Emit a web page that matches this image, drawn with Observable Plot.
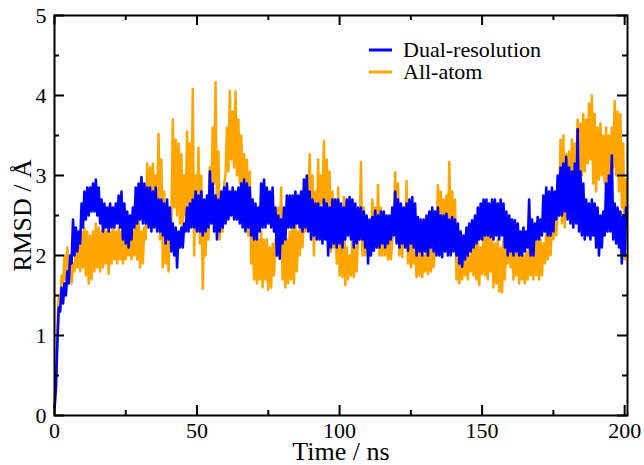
<!DOCTYPE html>
<html><head><meta charset="utf-8">
<script src="https://cdn.jsdelivr.net/npm/d3@7"></script>
<script src="https://cdn.jsdelivr.net/npm/@observablehq/plot@0.6"></script>
<style>
body{margin:0;background:#fff}
#wrap{position:relative;width:644px;height:465px}
#legend{position:absolute;left:0;top:0;pointer-events:none}
#legend text{font-family:"Liberation Serif","Times New Roman",serif}
</style></head><body><div id="wrap"></div>
<script>
// Sampling: one low/high pair per ns (t = 0..200 ns)
const seriesNames = ["Dual-resolution", "All-atom"];
const seriesColors = ["#0000ff", "#ffa500"];

const dualLo = [
0.10,0.90,1.30,1.40,1.50,1.65,1.90,2.00,2.05,2.15,
2.35,2.45,2.50,2.55,2.55,2.50,2.40,2.30,2.35,2.30,
2.35,2.35,2.40,2.35,2.20,2.15,2.10,2.20,2.35,2.40,
2.45,2.40,2.40,2.35,2.30,2.35,2.30,2.30,2.25,2.15,
2.20,2.05,2.00,1.85,2.10,2.10,2.30,2.30,2.35,2.35,
2.30,2.30,2.25,2.30,2.35,2.40,2.30,2.20,2.30,2.35,
2.40,2.45,2.50,2.45,2.45,2.40,2.35,2.30,2.35,2.25,
2.20,2.20,2.30,2.35,2.35,2.40,2.35,2.30,2.00,1.96,
2.15,2.20,2.35,2.35,2.35,2.40,2.35,2.30,2.35,2.30,
2.20,2.25,2.20,2.20,2.15,2.20,2.00,2.10,2.15,2.10,
2.15,2.10,2.20,2.25,2.20,2.10,2.15,2.20,2.20,2.10,
1.90,2.00,2.06,2.10,2.10,2.15,2.10,2.15,2.20,2.25,
2.15,2.10,2.15,2.10,2.06,2.15,2.10,2.00,2.05,2.00,
2.05,2.00,2.10,2.05,2.00,2.00,1.98,2.05,2.00,2.00,
2.05,2.00,1.90,1.86,1.95,2.00,2.05,2.10,2.15,2.20,
2.20,2.25,2.25,2.23,2.20,2.25,2.20,2.25,2.10,2.00,
2.05,2.00,2.05,2.00,2.00,2.05,2.10,2.00,2.00,2.20,
2.20,2.25,2.30,2.25,2.25,2.30,2.45,2.50,2.50,2.55,
2.45,2.40,2.35,2.40,2.30,2.25,2.20,2.25,2.20,2.25,
2.10,2.00,2.10,2.25,2.30,2.30,2.20,2.15,2.10,1.90,
2.00];
const dualHi = [
0.35,1.35,1.60,1.65,1.80,2.00,2.45,2.35,2.30,2.65,
2.80,2.85,2.85,2.90,2.95,2.85,2.70,2.65,2.60,2.65,
2.60,2.65,2.75,2.80,2.65,2.55,2.50,2.60,2.85,2.90,
2.98,2.90,2.85,2.85,2.80,2.85,2.70,2.70,2.65,2.70,
2.60,2.40,2.35,2.30,2.35,2.40,2.60,2.65,2.70,2.80,
2.75,2.80,2.70,2.75,3.05,2.90,2.75,2.70,2.80,2.85,
2.90,2.80,2.85,2.80,2.85,2.90,2.95,2.90,2.85,2.70,
2.65,2.60,2.90,2.95,2.85,2.80,2.85,2.60,2.50,2.45,
2.60,2.75,2.75,2.75,2.80,2.75,2.80,2.95,3.00,2.80,
2.70,2.65,2.65,2.60,2.70,2.65,2.60,2.70,2.70,2.70,
2.65,2.60,2.70,2.73,2.70,2.65,2.60,2.60,2.55,2.50,
2.45,2.48,2.56,2.50,2.55,2.55,2.50,2.50,2.60,2.80,
2.70,2.65,2.60,2.65,2.70,2.73,2.65,2.48,2.45,2.45,
2.50,2.55,2.60,2.55,2.60,2.50,2.50,2.52,2.45,2.48,
2.45,2.40,2.30,2.25,2.35,2.40,2.44,2.50,2.60,2.65,
2.70,2.70,2.65,2.70,2.70,2.65,2.70,2.65,2.55,2.50,
2.45,2.44,2.40,2.30,2.35,2.30,2.70,2.45,2.40,2.48,
2.45,2.75,2.85,2.80,2.85,2.80,3.00,3.10,3.15,3.23,
3.10,3.05,3.15,3.58,3.05,2.90,2.70,2.65,2.70,2.65,
2.60,2.50,2.55,2.90,3.00,3.25,2.65,2.60,2.55,2.50,
2.60];
const allLo = [
0.05,1.10,1.45,1.65,1.70,1.70,1.65,1.80,1.85,1.80,
1.85,1.75,1.65,1.70,1.80,1.85,1.80,1.85,1.90,1.77,
1.90,1.95,1.90,1.95,1.90,1.95,2.00,1.95,2.00,1.95,
1.85,1.90,2.20,2.65,2.60,2.50,2.60,2.20,1.85,1.90,
1.80,2.40,2.60,2.50,2.40,2.30,2.50,2.60,2.40,2.00,
2.30,2.15,1.58,2.00,2.20,2.60,2.90,2.40,2.20,2.30,
3.00,3.05,3.20,3.10,3.00,2.90,2.85,2.60,2.25,1.90,
1.70,1.65,1.70,1.60,1.70,1.57,1.60,1.75,2.00,2.10,
1.70,1.60,1.65,1.70,1.65,1.80,2.00,2.10,2.30,2.40,
2.30,2.00,2.30,2.40,2.65,2.50,2.30,2.05,2.10,1.90,
1.75,1.73,1.63,1.70,1.75,1.73,1.80,2.20,2.00,2.00,
2.05,2.05,2.10,2.10,2.00,2.00,2.00,1.95,1.95,2.30,
2.20,2.00,1.98,2.10,1.90,1.85,1.90,1.73,1.75,1.73,
1.80,1.77,1.80,1.85,2.30,2.35,2.30,2.40,2.30,2.20,
2.25,1.70,1.65,1.70,1.75,1.70,1.80,1.75,1.70,1.63,
1.77,1.75,1.70,1.80,1.60,1.65,1.55,1.54,1.70,1.90,
1.85,1.70,1.75,1.65,1.70,1.65,1.70,1.75,1.70,1.75,
1.70,1.75,1.90,1.95,2.00,2.20,2.25,2.50,2.40,2.35,
2.50,2.50,2.60,2.95,3.00,3.00,3.05,3.15,3.20,2.90,
2.80,2.95,3.00,2.90,2.80,2.95,3.10,3.00,2.80,2.60,
1.95];
const allHi = [
0.30,1.50,1.75,2.00,2.10,2.00,1.90,2.10,2.15,2.30,
2.35,2.30,2.25,2.30,2.40,2.35,2.30,2.35,2.30,2.30,
2.35,2.30,2.35,2.30,2.25,2.15,2.20,2.30,2.50,2.45,
2.30,2.35,3.15,3.10,3.15,3.00,3.52,3.20,2.80,2.40,
2.35,3.70,3.45,3.40,3.27,3.00,3.55,3.40,4.08,3.00,
3.35,3.00,2.40,2.65,3.10,3.60,4.17,3.30,2.65,2.90,
3.60,4.06,3.80,4.05,3.70,3.50,3.27,3.20,3.05,2.40,
2.23,2.20,2.30,2.20,2.20,2.10,2.15,2.20,2.60,2.85,
2.30,2.20,2.30,2.35,2.40,2.30,2.55,2.50,2.90,3.27,
3.00,2.80,3.20,3.00,3.43,3.20,3.05,2.80,2.70,2.85,
2.60,2.73,2.10,2.00,2.20,2.10,2.23,3.17,2.60,2.30,
2.40,2.70,2.60,2.88,2.60,2.50,2.40,2.20,2.20,3.04,
2.90,2.60,2.50,2.93,2.20,2.20,2.10,2.10,2.05,2.00,
2.10,2.15,2.10,2.15,2.88,2.80,2.70,2.75,3.17,2.80,
2.70,1.94,1.90,2.05,2.10,2.00,2.10,2.27,2.20,2.10,
2.30,2.25,2.30,2.20,2.15,2.20,2.10,2.20,2.20,2.50,
2.40,2.20,2.15,2.10,2.00,2.05,2.20,2.15,2.30,2.25,
2.20,2.15,2.30,2.40,2.40,2.50,2.50,3.45,3.50,3.27,
3.30,3.45,3.40,3.70,3.65,3.77,3.70,3.90,4.00,3.77,
3.60,3.65,3.50,3.60,3.50,3.60,3.93,3.80,3.77,3.40,
2.95];

const xMajor = [0, 50, 100, 150, 200];
const xMinor = [25, 75, 125, 175];
const yMajor = [0, 1, 2, 3, 4, 5];
const yMinor = [0.5, 1.5, 2.5, 3.5, 4.5];
const xTitle = "Time / ns";
const yTitle = "RMSD / Å";

function toSeries(lo, hi) {
  const out = [];
  lo.forEach((v, i) => { out.push({t: i, v: v}); out.push({t: i + 0.5, v: hi[i]}); });
  return out;
}
const dual = toSeries(dualLo, dualHi);
const all = toSeries(allLo, allHi);

const W = 644, H = 465, mL = 54, mR = 17, mT = 15, mB = 50;
const fw = W - mL - mR, fh = H - mT - mB;
const font = "Liberation Serif, Times New Roman, serif";
const intFmt = d => String(d);

const chart = Plot.plot({
  width: W, height: H,
  marginLeft: mL, marginRight: mR, marginTop: mT, marginBottom: mB,
  style: {fontFamily: font, fontSize: "22px", background: "white", color: "black", overflow: "visible"},
  x: {domain: [0, 201]},
  y: {domain: [0, 5]},
  marks: [
    Plot.line(all, {x: "t", y: "v", stroke: seriesColors[1], strokeWidth: 2.5}),
    Plot.line(dual, {x: "t", y: "v", stroke: seriesColors[0], strokeWidth: 2.6}),
    Plot.frame({stroke: "black", strokeWidth: 2}),
    Plot.tickX(xMajor, {x: d => d, insetTop: fh - 10, stroke: "black", strokeWidth: 2}),
    Plot.tickX(xMajor, {x: d => d, insetBottom: fh - 10, stroke: "black", strokeWidth: 2}),
    Plot.tickX(xMinor, {x: d => d, insetTop: fh - 5, stroke: "black", strokeWidth: 2}),
    Plot.tickX(xMinor, {x: d => d, insetBottom: fh - 5, stroke: "black", strokeWidth: 2}),
    Plot.tickY(yMajor, {y: d => d, insetRight: fw - 10, stroke: "black", strokeWidth: 2}),
    Plot.tickY(yMajor, {y: d => d, insetLeft: fw - 10, stroke: "black", strokeWidth: 2}),
    Plot.tickY(yMinor, {y: d => d, insetRight: fw - 5, stroke: "black", strokeWidth: 2}),
    Plot.tickY(yMinor, {y: d => d, insetLeft: fw - 5, stroke: "black", strokeWidth: 2}),
    Plot.axisX({ticks: xMajor, tickFormat: intFmt, tickSize: 0, tickPadding: 7, fontSize: 22, label: null}),
    Plot.axisY({ticks: yMajor, tickFormat: intFmt, tickSize: 0, tickPadding: 8, fontSize: 22, label: null}),
    Plot.text([xTitle], {text: d => d, frameAnchor: "bottom", dy: 36, fontSize: 26, textAnchor: "middle", lineAnchor: "middle"}),
    Plot.text([yTitle], {text: d => d, frameAnchor: "left", dx: -32, rotate: -90, fontSize: 26, textAnchor: "middle", lineAnchor: "middle"})
  ]
});

const wrap = document.getElementById("wrap");
wrap.appendChild(chart);

// legend overlay
const leg = d3.select(wrap).append("svg").attr("id", "legend").attr("width", W).attr("height", H);
const legY = [50, 72];
seriesNames.forEach((name, i) => {
  leg.append("line").attr("x1", 369).attr("x2", 392).attr("y1", legY[i]).attr("y2", legY[i])
    .attr("stroke", seriesColors[i]).attr("stroke-width", 3);
  leg.append("text").attr("x", 403).attr("y", legY[i] + 7)
    .attr("font-family", font).attr("font-size", 22).attr("fill", "black").text(name);
});
</script></body></html>
